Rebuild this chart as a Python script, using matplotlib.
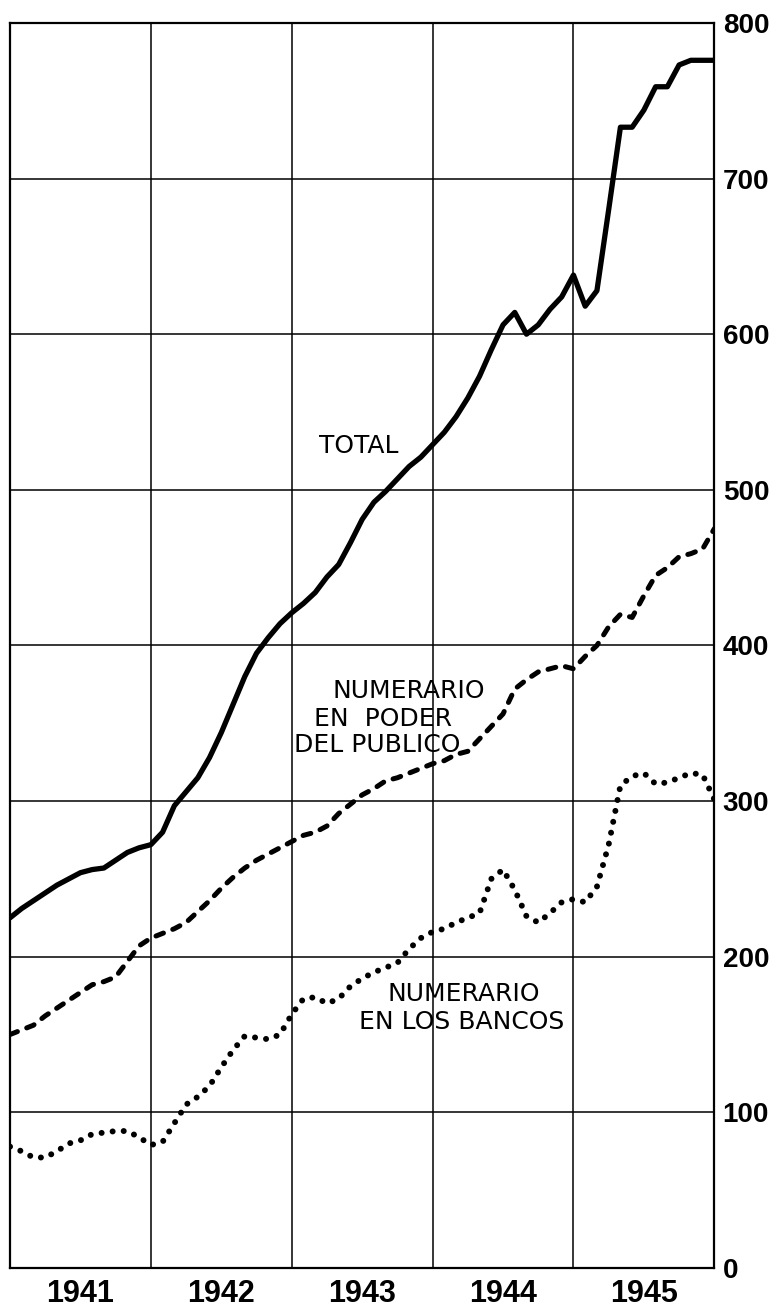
import matplotlib
matplotlib.use('Agg')
import matplotlib.pyplot as plt
import numpy as np

# Monthly values, Jan 1941 .. Jan 1946 (millions)
total = [225, 231, 236, 241, 246, 250, 254, 256, 257, 262, 267, 270,
         272, 280, 297, 306, 315, 328, 344, 362, 380, 395, 405, 414,
         421, 427, 434, 444, 452, 466, 481, 492, 499, 507, 515, 521,
         529, 537, 547, 559, 573, 590, 606, 614, 600, 606, 616, 624,
         638, 618, 628, 680, 733, 733, 744, 759, 759, 773, 776, 776,
         776]
publico = [150, 153, 156, 162, 167, 172, 177, 182, 184, 187, 197, 207,
           212, 215, 218, 222, 229, 236, 244, 251, 257, 262, 266, 270,
           274, 278, 280, 284, 292, 298, 304, 308, 313, 315, 318, 321,
           324, 326, 330, 332, 340, 348, 356, 372, 378, 383, 385, 387,
           385, 393, 400, 412, 420, 418, 432, 445, 450, 457, 459, 462,
           475]
bancos = [78, 75, 71, 71, 75, 80, 82, 86, 87, 88, 88, 84,
          79, 81, 93, 105, 110, 117, 129, 140, 149, 148, 147, 150,
          163, 173, 174, 170, 173, 181, 186, 190, 193, 196, 205, 212,
          216, 218, 222, 225, 228, 250, 256, 243, 226, 222, 228, 235,
          237, 235, 245, 272, 310, 316, 318, 311, 312, 315, 318, 317,
          301]
years = ['1941', '1942', '1943', '1944', '1945']
y_ticks = [0, 100, 200, 300, 400, 500, 600, 700, 800]

months = np.arange(len(total))

fig = plt.figure(figsize=(7.8, 13.11), dpi=100)
ax = fig.add_axes([0.0128, 0.0328, 0.903, 0.9497])

## Grid
for yv in y_ticks:
    ax.axhline(yv, color='black', lw=1.1, zorder=1)
for xv in range(0, 61, 12):
    ax.axvline(xv, color='black', lw=1.1, zorder=1)

## Series
ax.plot(months, total, color='black', lw=3.8, solid_capstyle='round',
        solid_joinstyle='round', zorder=3)
ax.plot(months, publico, color='black', lw=3.6, linestyle=(0, (1.6, 2.0)),
        dash_capstyle='round', zorder=3)
ax.plot(months, bancos, color='black', lw=4.3, linestyle=(0, (0.01, 1.85)),
        dash_capstyle='round', zorder=3)

## Labels
lab = dict(fontsize=18, color='black', family='DejaVu Sans')
ax.text(29.7, 528, 'TOTAL', ha='center', va='center', **lab)
ax.text(27.5, 371, 'NUMERARIO', ha='left', va='center', **lab)
ax.text(25.9, 353, 'EN  PODER', ha='left', va='center', **lab)
ax.text(24.2, 336, 'DEL PUBLICO', ha='left', va='center', **lab)
ax.text(32.2, 176, 'NUMERARIO', ha='left', va='center', **lab)
ax.text(29.7, 158, 'EN LOS BANCOS', ha='left', va='center', **lab)

ax.set_xlim(0, 60)
ax.set_ylim(0, 800)

ax.set_xticks([6, 18, 30, 42, 54])
ax.set_xticklabels(years, fontsize=22, fontweight='bold',
                   family=['Liberation Sans', 'DejaVu Sans'])
ax.yaxis.tick_right()
ax.set_yticks(y_ticks)
ax.set_yticklabels([str(v) for v in y_ticks], fontsize=20, fontweight='bold',
                   family=['Liberation Sans', 'DejaVu Sans'])
ax.tick_params(axis='x', length=0, pad=8)
ax.tick_params(axis='y', length=0, pad=6)

for sp in ax.spines.values():
    sp.set_linewidth(1.6)

fig.savefig('out.png', dpi=100)
